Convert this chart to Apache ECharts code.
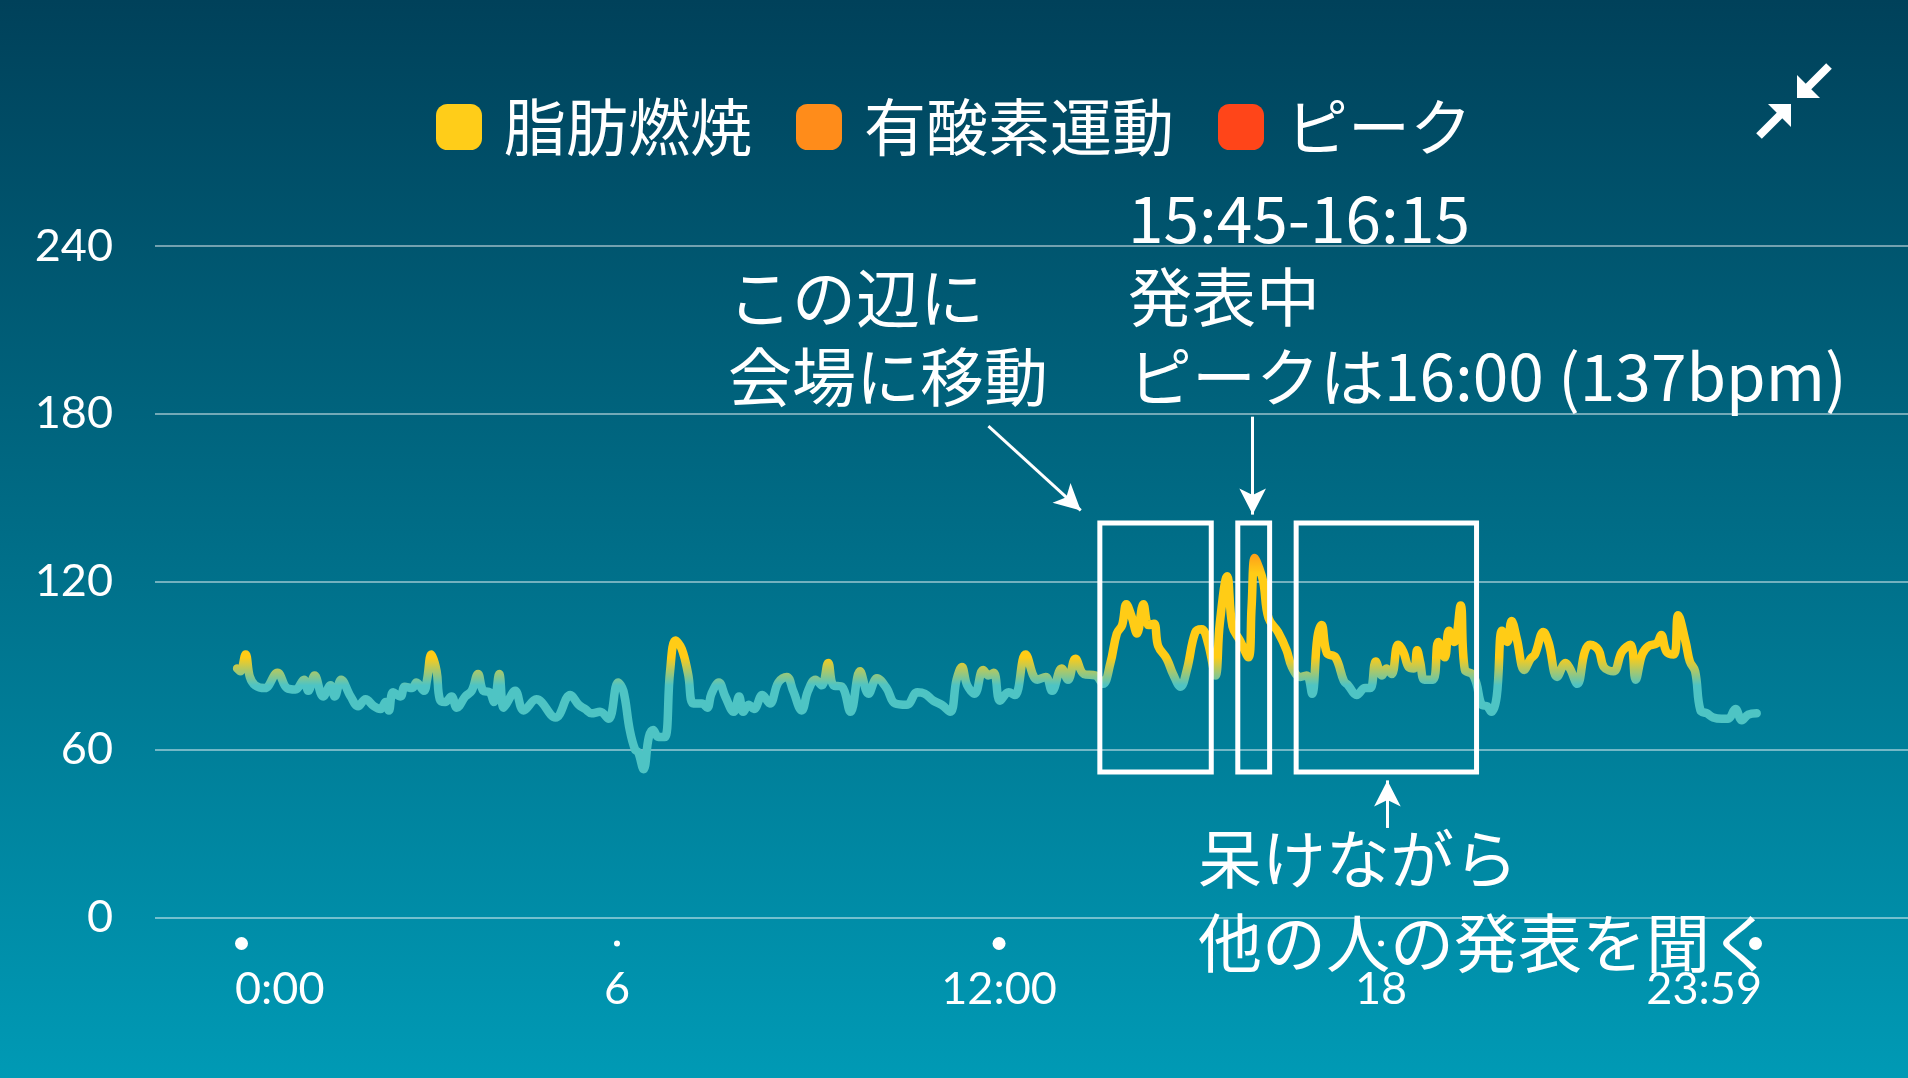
<!DOCTYPE html>
<html><head><meta charset="utf-8">
<script src="https://cdn.jsdelivr.net/npm/echarts@6/dist/echarts.min.js"></script>
<style>html,body{margin:0;padding:0;width:1908px;height:1078px;overflow:hidden;background:#006b85}#c{width:1908px;height:1078px}</style>
</head><body><div id="c"></div>
<script>
// ---- data (minutes since 0:00, heart rate bpm) ----
const minutes = [2,5,10,14,19,28,40,49,57,65,69,75,83,90,94,100,109,116,123,131,137,142,145,149,156,160,167,171,178,181,185,190,193,198,204,209,217,223,229,234,240,244,249,253,256,264,272,284,302,316,324,330,336,344,352,361,366,372,377,380,385,390,394,399,405,410,415,421,427,432,440,445,449,456,462,470,475,479,484,489,497,504,512,520,526,534,540,547,553,559,564,572,580,589,597,605,614,622,633,643,650,658,666,674,680,685,690,697,705,710,715,721,729,735,745,756,764,770,779,785,792,800,811,818,825,831,836,840,845,850,856,861,866,870,878,884,891,897,905,911,917,924,928,935,940,947,955,958,961,965,969,974,983,991,996,1004,1010,1015,1020,1024,1029,1037,1045,1049,1057,1065,1070,1075,1081,1085,1090,1096,1101,1106,1111,1114,1117,1121,1129,1134,1140,1144,1149,1155,1159,1166,1170,1175,1180,1184,1189,1194,1199,1203,1208,1215,1221,1225,1233,1238,1246,1254,1258,1265,1272,1277,1285,1290,1299,1307,1315,1320,1326,1332,1340,1344,1349,1356,1360,1367,1371,1376,1381,1387,1393,1401,1407,1414,1420,1426,1434];
const bpm = [89,88,94,86,83,82,87.5,82,81.5,85,81,86.5,79,83,79,85,79,75.5,78,75.5,74.5,77,74,80.5,79,82.5,82,84,81,85,94,88,78,77,79,75,79,81,87,81,80.5,77,87,75,76.5,81,74,78,71.5,79.5,76,74.5,73,73.5,71,84,81,67,60,59,53,64.5,67,64.5,64.5,88,99,96,87,76.5,76.5,75,80,84,79,73.5,79,73.5,76,74.5,79.5,76.5,84,86,81,74,81,85,83,91,83,82.5,73.5,88,80,85.5,82,76.5,76,80.5,80,77.5,76,73.5,85,89.5,83,80,88.5,86.5,87.5,77.5,80.5,79.5,94,85,86,81,89,85,92.5,87,86.5,83.5,91,101.5,104.5,112,107.5,101.5,112,104.5,105,97,92.5,87,82.5,88.5,102,103,98,86.5,105,122,104,99,93,111,128.5,125,120,107,102,95.5,89.5,86,86.5,80,100,104.5,94.5,93,84.5,83,79.5,82,82,91.5,86.5,89,87,97.5,95,89.5,89,95.5,91,85,85,98.5,93,102.5,98.5,111.5,88.5,87,83.5,76,75.5,73.5,79,102.5,98.5,106,99.5,88.5,92.5,94,102,98,86,91,89,83.5,95,97.5,95.5,89.5,88,95,97.5,85,94,97,98,101,95,94,108,98.5,91.5,88,74,73,71.5,71,71,74.5,70.5,72.5,73];
const yTicks = {min: 0, max: 240, step: 60};
const xTickText = {0: '0:00', 360: '6', 720: '12:00', 1080: '18', 1439: '23:59'};
const zoneNames = ['脂肪燃焼', '有酸素運動', 'ピーク'];
// annotation boxes: [startMinute, endMinute], vertical extent in bpm
const boxSpans = [[815, 920], [945, 975], [1000, 1170]];
const boxBpm = [52, 141];
// annotation arrows: [[fromMinute, fromBpm], [toMinute, toBpm]]
const arrowSegs = [[[710, 175.6], [797, 145.5]], [[959, 179], [959, 144]], [[1086, 32], [1086, 49]]];
const notes = [
  {lines: ['この辺に', '会場に移動'], x: 728, y: [298, 377]},
  {lines: ['15:45-16:15', '発表中', 'ピークは16:00 (137bpm)'], x: 1128, y: [219, 297, 377]},
  {lines: ['呆けながら', '他の人の発表を聞く'], x: 1198, y: [859, 943]}
];

// ---- styles ----
const zoneColors = ['#ffcd19', '#ff8c1a', '#ff4519'];
const TEAL = '#4ec4c4', YEL = '#ffcc16', ORG = '#ff8a1a';
const cjk = '"Noto Sans CJK JP", "Noto Sans CJK SC", sans-serif';

const chart = echarts.init(document.getElementById('c'));
const lineData = minutes.map((m, i) => [m, bpm[i]]);

const graphics = [];
notes.forEach(n => n.lines.forEach((t, i) => graphics.push({
  type: 'text', x: n.x, y: n.y[i], z: 100,
  style: {text: t, fill: '#fff', font: '64px ' + cjk, textVerticalAlign: 'middle', textAlign: 'left'}
})));
const cx = 1794, cy = 101;
graphics.push(
  {type: 'polygon', shape: {points: [[cx + 3, cy - 3], [cx + 3, cy - 26], [cx + 26, cy - 3]]}, style: {fill: '#fff'}},
  {type: 'line', shape: {x1: cx + 12, y1: cy - 12, x2: cx + 35, y2: cy - 35}, style: {stroke: '#fff', lineWidth: 8}},
  {type: 'polygon', shape: {points: [[cx - 3, cy + 3], [cx - 3, cy + 26], [cx - 26, cy + 3]]}, style: {fill: '#fff'}},
  {type: 'line', shape: {x1: cx - 12, y1: cy + 12, x2: cx - 35, y2: cy + 35}, style: {stroke: '#fff', lineWidth: 8}}
);

const option = {
  animation: false,
  backgroundColor: new echarts.graphic.LinearGradient(0, 0, 0, 1, [
    {offset: 0, color: '#00415a'}, {offset: 1, color: '#009ab5'}
  ]),
  legend: {
    data: zoneNames.map((n, i) => ({name: n, itemStyle: {color: zoneColors[i]}})),
    left: 'center', top: 91, icon: 'roundRect', itemWidth: 46, itemHeight: 46, itemGap: 44,
    selectedMode: false,
    textStyle: {color: '#fff', fontSize: 62, fontFamily: cjk, padding: [0, 0, 0, 17], lineHeight: 62}
  },
  grid: [
    {left: 155, right: 0, top: 246, bottom: 160.5},
    {left: 235, right: 146, top: 246, bottom: 160.5}
  ],
  xAxis: [
    {gridIndex: 0, type: 'value', min: 0, max: 1, show: false},
    {
      gridIndex: 1, type: 'value', min: 0, max: 1439, interval: 360,
      axisLine: {show: false}, axisTick: {show: false}, splitLine: {show: false},
      axisLabel: {
        show: true, margin: 6, showMinLabel: true, showMaxLabel: true,
        alignMinLabel: 'left', alignMaxLabel: 'right',
        formatter: v => {
          const big = (v === 0 || v === 720 || v === 1439);
          return '{' + (big ? 'd' : 's') + '| }\n{t|' + (xTickText[v] || '') + '}';
        },
        rich: {
          d: {width: 13, height: 13, backgroundColor: '#fff', borderRadius: 7, lineHeight: 40, fontSize: 1},
          s: {width: 6, height: 6, backgroundColor: '#fff', borderRadius: 3, lineHeight: 40, fontSize: 1},
          t: {color: '#fff', fontSize: 45, fontFamily: 'Lato, "Liberation Sans", sans-serif', lineHeight: 52}
        }
      }
    }
  ],
  yAxis: [
    {
      gridIndex: 0, type: 'value', min: yTicks.min, max: yTicks.max, interval: yTicks.step,
      axisLine: {show: false}, axisTick: {show: false},
      splitLine: {lineStyle: {color: 'rgba(255,255,255,0.45)', width: 2}},
      axisLabel: {color: '#fff', fontSize: 45, fontFamily: 'Lato, "Liberation Sans", sans-serif', margin: 42}
    },
    {gridIndex: 1, type: 'value', min: yTicks.min, max: yTicks.max, show: false}
  ],
  visualMap: {
    show: false, type: 'continuous', seriesIndex: 0, dimension: 1, min: 43, max: 143,
    inRange: {color: [TEAL, TEAL, TEAL, TEAL, TEAL, YEL, YEL, YEL, YEL, ORG, ORG]}
  },
  series: [
    {
      type: 'line', xAxisIndex: 1, yAxisIndex: 1, data: lineData, smooth: 0.4,
      showSymbol: false, symbol: 'none',
      lineStyle: {width: 8.5, cap: 'round', join: 'round'},
      markArea: {
        silent: true, z: 6,
        itemStyle: {color: 'rgba(0,0,0,0)', borderColor: '#fff', borderWidth: 5},
        label: {show: false},
        data: boxSpans.map(s => [{xAxis: s[0], yAxis: boxBpm[1]}, {xAxis: s[1], yAxis: boxBpm[0]}])
      },
      markLine: {
        silent: true, symbol: ['none', 'arrow'], symbolSize: [20, 26],
        lineStyle: {color: '#fff', width: 3, type: 'solid'},
        label: {show: false},
        data: arrowSegs.map(a => [{coord: a[0]}, {coord: a[1]}])
      }
    },
    ...zoneNames.map((n, i) => ({
      name: n, type: 'line', xAxisIndex: 0, yAxisIndex: 0, data: [], color: zoneColors[i]
    }))
  ],
  graphic: graphics
};
chart.setOption(option);
</script>
</body></html>
